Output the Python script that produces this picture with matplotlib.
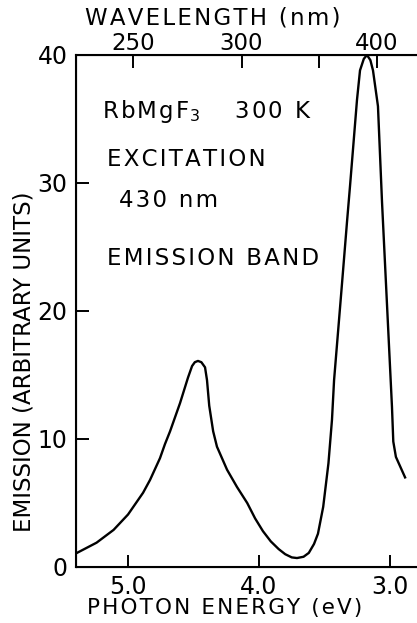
import matplotlib.pyplot as plt
import numpy as np

# emission band of RbMgF3
energy = [5.39, 5.24, 5.11, 5.00, 4.885, 4.832, 4.756, 4.718, 4.679, 4.603,
          4.542, 4.511, 4.49, 4.466, 4.44, 4.412, 4.397, 4.38, 4.35, 4.321, 4.244,
          4.168, 4.09, 4.03, 3.97, 3.91, 3.85, 3.80, 3.75, 3.71, 3.66, 3.62,
          3.58, 3.55, 3.51, 3.47, 3.443, 3.427, 3.366, 3.328, 3.305, 3.282, 3.252,
          3.229, 3.20, 3.176, 3.15, 3.13, 3.092, 3.061, 3.023, 2.985, 2.975,
          2.955, 2.92, 2.885]
emission = [1.1, 1.9, 2.9, 4.1, 5.8, 6.8, 8.5, 9.6, 10.6, 12.8,
            14.8, 15.7, 16.0, 16.1, 16.0, 15.6, 14.6, 12.6, 10.6, 9.4, 7.6,
            6.25, 5.0, 3.8, 2.8, 2.0, 1.4, 1.0, 0.75, 0.7, 0.8, 1.1,
            1.8, 2.6, 4.7, 8.1, 11.5, 14.6, 22.2, 27.0, 29.8, 32.7, 36.5,
            38.8, 39.7, 40.0, 39.6, 38.8, 36.0, 28.5, 20.5, 12.5, 9.8,
            8.6, 7.8, 7.0]

wl_ticks = [250, 300, 350, 400]
wl_labels = ["250", "300", "", "400"]


def spaced(s):
    # the lettering of the original is widely spaced
    return "\u200a".join(s)


fig = plt.figure(figsize=(4.17, 6.23), dpi=100)
ax = fig.add_axes([76/417, 56/623, 341/417, 512/623])
ax.plot(energy, emission, color="black", lw=1.7)
ax.set_xlim(5.397, 2.794)
ax.set_ylim(0, 40)
ax.set_xticks([5.0, 4.0, 3.0])
ax.set_xticklabels(["5.0", "4.0", "3.0"])
ax.set_yticks([0, 10, 20, 30, 40])
ax.tick_params(direction="in", length=9, width=1.4, labelsize=17, pad=6)
ax.tick_params(axis="y", pad=6)
for s in ["left", "bottom", "top"]:
    ax.spines[s].set_linewidth(1.5)
ax.spines["right"].set_visible(False)
ax.set_xlabel(spaced("PHOTON ENERGY (eV)"), fontsize=15.5)
ax.xaxis.set_label_coords(0.437, -0.06)
ax.set_ylabel("EMISSION (ARBITRARY UNITS)", fontsize=16.5)
ax.yaxis.set_label_coords(-0.12, 0.40)

top = ax.twiny()
top.set_xlim(ax.get_xlim())
top.set_xticks([1240.0 / w for w in wl_ticks])
top.set_xticklabels(wl_labels)
top.tick_params(direction="in", length=9, width=1.4, labelsize=16.5, pad=0)
top.spines["right"].set_visible(False)
top.set_xlabel(spaced("WAVELENGTH (nm)"), fontsize=16.5)
top.xaxis.set_label_coords(0.402, 1.06)

tfs = 16.5
ax.text(0.076, 0.877, spaced("RbMgF") + r"$_3$" + "\u2003\u2002" + spaced("300 K"),
        transform=ax.transAxes, fontsize=tfs)
ax.text(0.091, 0.783, spaced("EXCITATION"), transform=ax.transAxes, fontsize=tfs)
ax.text(0.126, 0.703, spaced("430 nm"), transform=ax.transAxes, fontsize=tfs)
ax.text(0.091, 0.590, spaced("EMISSION BAND"), transform=ax.transAxes, fontsize=tfs)

fig.savefig("out.png", dpi=100)
